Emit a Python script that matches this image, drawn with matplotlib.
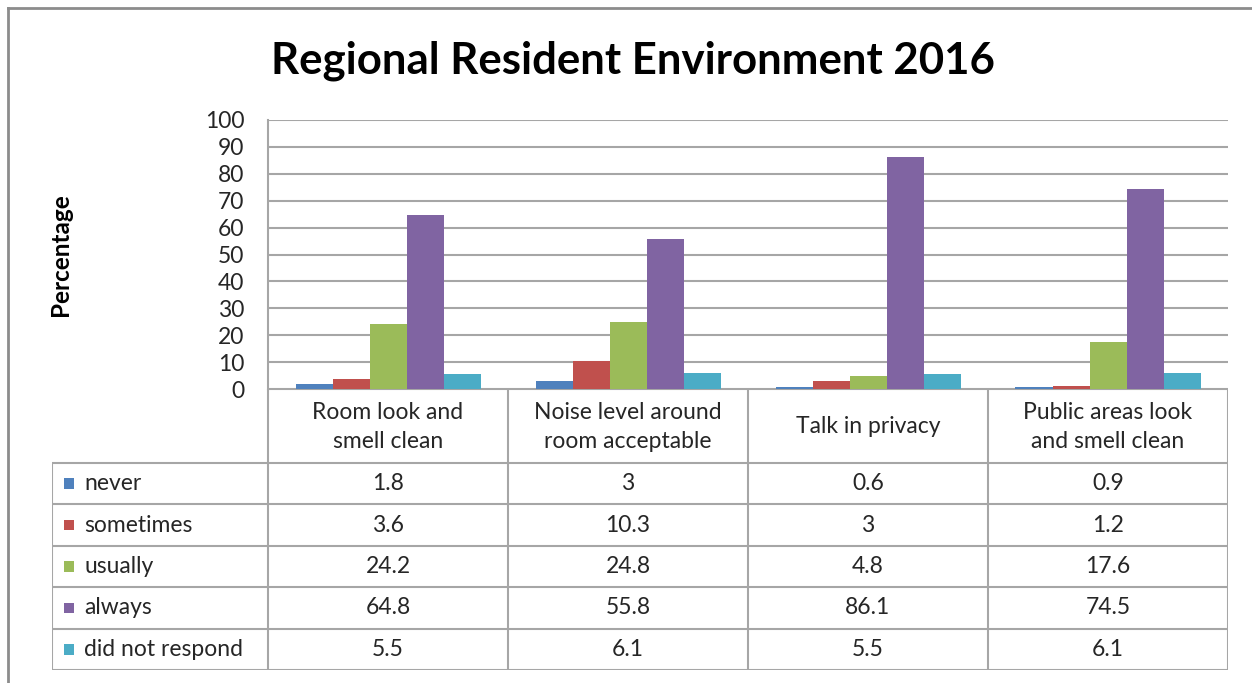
import numpy as np
import matplotlib
matplotlib.use("Agg")
import matplotlib.pyplot as plt

plt.rcParams['font.family'] = ['Lato', 'DejaVu Sans']

# data
categories = ['Room look and\nsmell clean', 'Noise level around\nroom acceptable',
              'Talk in privacy', 'Public areas look\nand smell clean']
series = ['never', 'sometimes', 'usually', 'always', 'did not respond']
never = [1.8, 3, 0.6, 0.9]
sometimes = [3.6, 10.3, 3, 1.2]
usually = [24.2, 24.8, 4.8, 17.6]
always = [64.8, 55.8, 86.1, 74.5]
no_response = [5.5, 6.1, 5.5, 6.1]
yticks = list(range(0, 101, 10))

values = [never, sometimes, usually, always, no_response]
colors = ['#4F81BD', '#C0504D', '#9BBB59', '#8064A2', '#4BACC6']
grid_col = '#A6A6A6'
txt_col = '#262626'
fs = 16.5

W, H = 1252, 683
fig = plt.figure(figsize=(W / 100, H / 100), dpi=100)

# outer chart border (top and left visible only)
fig.add_artist(plt.Line2D([8 / W, 1], [1 - 8 / H, 1 - 8 / H], color='#8C8C8C', lw=2))
fig.add_artist(plt.Line2D([8 / W, 8 / W], [0, 1 - 8 / H], color='#8C8C8C', lw=2))

fig.text(633 / W, 1 - 61 / H, 'Regional Resident Environment 2016',
         ha='center', va='center', fontsize=31.5, fontweight='bold', color='black')

# bar chart
ax = fig.add_axes([268 / W, 294 / H, 960 / W, 269 / H])
n = len(categories)
x = np.arange(n) + 0.5
bw = 37 / 240
for j, (vals, c) in enumerate(zip(values, colors)):
    ax.bar(x + (j - 2) * bw, vals, width=bw, color=c, edgecolor='none', zorder=3)
ax.set_xlim(0, n)
ax.set_ylim(0, 100)
ax.set_yticks(yticks)
ax.set_yticklabels([str(t) for t in yticks], fontsize=fs, color=txt_col)
ax.tick_params(axis='y', length=0, pad=17)
ax.set_xticks([])
ax.yaxis.grid(True, color=grid_col, lw=1.5, zorder=0)
for s in ['top', 'right', 'bottom']:
    ax.spines[s].set_visible(False)
ax.spines['left'].set_color(grid_col)
ax.spines['left'].set_linewidth(1.5)

fig.text(60 / W, 1 - 255 / H, 'Percentage', rotation=90, ha='center', va='center',
         fontsize=17.5, fontweight='bold', color='black')

# data table below
tab = fig.add_axes([52 / W, 13 / H, 1176 / W, 281 / H])
left = -0.9
hdr = 74 / 41.4
tab.set_xlim(left, n)
tab.set_ylim(hdr + len(series), 0)
tab.axis('off')
lc = dict(color=grid_col, lw=1.5, solid_capstyle='butt')
# horizontal lines
tab.plot([0, n], [0, 0], **lc)
for r in range(len(series) + 1):
    tab.plot([left, n], [hdr + r, hdr + r], **lc)
# vertical lines
tab.plot([left, left], [hdr, hdr + len(series)], **lc)
for c in range(n + 1):
    tab.plot([c, c], [0, hdr + len(series)], **lc)

for i, cat in enumerate(categories):
    tab.text(i + 0.5, hdr / 2 + 0.02, cat, ha='center', va='center', fontsize=fs,
             color=txt_col, linespacing=1.45)
for r, (name, vals, col) in enumerate(zip(series, values, colors)):
    yc = hdr + r + 0.5
    tab.add_patch(plt.Rectangle((left + 12 / 240, yc - 0.13), 10 / 240, 0.26,
                                color=col, lw=0))
    tab.text(left + 32 / 240, yc, name, ha='left', va='center', fontsize=fs, color=txt_col)
    for i, v in enumerate(vals):
        tab.text(i + 0.5, yc, f'{v:g}', ha='center', va='center', fontsize=fs, color=txt_col)

fig.savefig('out.png', dpi=100, facecolor='white')
